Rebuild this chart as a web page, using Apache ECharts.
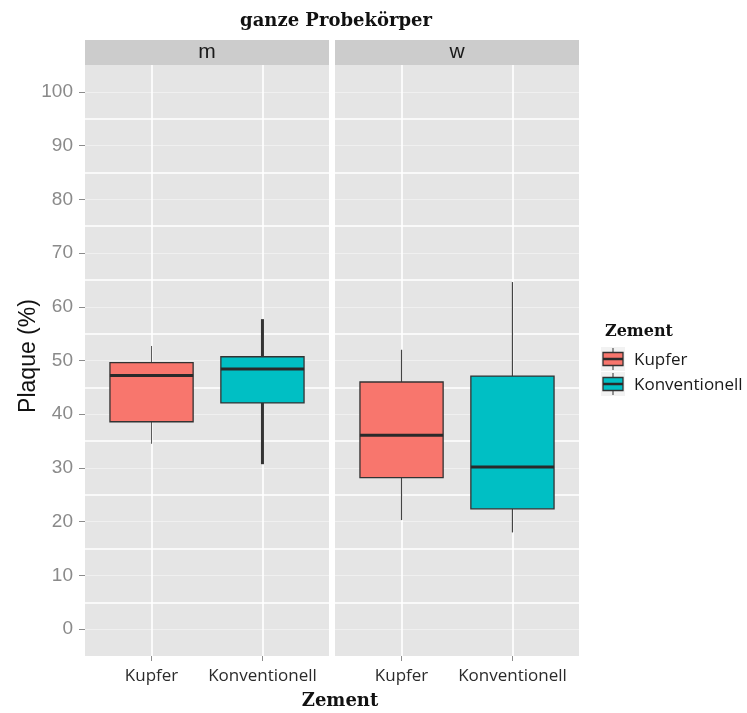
<!DOCTYPE html>
<html>
<head>
<meta charset="utf-8">
<script src="https://cdn.jsdelivr.net/npm/echarts@6/dist/echarts.min.js"></script>
<style>
  html, body { margin: 0; padding: 0; background: #ffffff; }
  #chart { width: 747px; height: 713px; }
</style>
</head>
<body>
<div id="chart"></div>
<script>
// Facets (Geschlecht) and cement groups
const panels = ['m', 'w'];
const categories = ['Kupfer', 'Konventionell'];

// Box statistics per facet: [lower whisker, Q1, median, Q3, upper whisker]
const mKupfer = [34.5, 38.6, 47.2, 49.6, 52.7];
const mKonventionell = [30.7, 42.1, 48.4, 50.7, 57.7];
const wKupfer = [20.3, 28.2, 36.1, 46.0, 52.0];
const wKonventionell = [18.0, 22.4, 30.2, 47.1, 64.6];

// Y axis tick labels
const yTicks = [0, 10, 20, 30, 40, 50, 60, 70, 80, 90, 100];

const fills = ['#F8766D', '#00BFC4'];
const outline = '#333333';
// whisker stroke width per panel / group
const whiskerWidth = { m: [1, 3], w: [1.2, 1.2] };
const whiskerColor = { m: ['#555555', '#333333'], w: ['#444444', '#444444'] };

const Y_MIN = -5, Y_MAX = 105;
const PANEL_TOP = 65, PANEL_H = 591, PANEL_W = 244;
const panelLeft = [85, 335];
// boxes sit in a slightly narrower grid so that the category centres
// land where a 0.6-unit discrete expansion would put them
const bandW = PANEL_W / 2.2;
const boxLeft = panelLeft.map(l => l + 0.6 * bandW - bandW / 2);

const chart = echarts.init(document.getElementById('chart'), null, { renderer: 'canvas' });

const grids = [];
const xAxes = [];
const yAxes = [];
const series = [];

panels.forEach((p, i) => {
  grids.push({
    left: panelLeft[i], top: PANEL_TOP, width: PANEL_W, height: PANEL_H,
    show: true, backgroundColor: '#E5E5E5', borderWidth: 0
  });
});
panels.forEach((p, i) => {
  grids.push({ left: boxLeft[i], top: PANEL_TOP, width: bandW * 2, height: PANEL_H });
});

// background grids: hidden x axes, y axes for labels, minor and major lines
panels.forEach((p, i) => {
  xAxes.push({ gridIndex: i, type: 'value', min: 0, max: 1, show: false });
  yAxes.push({
    gridIndex: i, type: 'value', min: Y_MIN, max: Y_MAX, position: 'left',
    axisLine: { show: false },
    axisTick: { show: i === 0, length: 6, customValues: yTicks, lineStyle: { color: '#8C8C8C', width: 1 } },
    axisLabel: {
      show: i === 0, customValues: yTicks, margin: 12,
      color: '#8A8A8A', fontSize: 19, fontFamily: 'Liberation Sans, Arial, sans-serif'
    },
    splitLine: { show: false }
  });
  yAxes.push({
    gridIndex: i, type: 'value', min: Y_MIN, max: Y_MAX, interval: 5, position: 'right',
    axisLine: { show: false }, axisTick: { show: false }, axisLabel: { show: false },
    splitLine: { show: true, showMinLine: false, showMaxLine: false,
      lineStyle: { color: ['#F0F0F0', 'rgba(0,0,0,0)'], width: 1 } }
  });
  yAxes.push({
    gridIndex: i, type: 'value', min: Y_MIN, max: Y_MAX, interval: 5, position: 'right',
    axisLine: { show: false }, axisTick: { show: false }, axisLabel: { show: false },
    splitLine: { show: true, showMinLine: false, showMaxLine: false,
      lineStyle: { color: ['rgba(0,0,0,0)', '#FFFFFF'], width: 1.6 } }
  });
});

// box grids: category x axes and hidden y axes
panels.forEach((p, i) => {
  xAxes.push({
    gridIndex: 2 + i, type: 'category', data: categories, position: 'bottom',
    axisLine: { show: false, onZero: false },
    axisTick: { show: true, alignWithLabel: true, length: 5, lineStyle: { color: '#8C8C8C' } },
    axisLabel: { interval: 0, margin: 12, color: '#2B2B2B', fontSize: 17, fontFamily: 'Open Sans, sans-serif' },
    splitLine: { show: true, alignWithLabel: true, lineStyle: { color: '#FFFFFF', width: 1.6 } }
  });
  yAxes.push({ gridIndex: 2 + i, type: 'value', min: Y_MIN, max: Y_MAX, show: false });
});

const panelData = {
  m: [mKupfer, mKonventionell],
  w: [wKupfer, wKonventionell]
};

panels.forEach((p, i) => {
  const data = panelData[p].map((s, ci) => [ci].concat(s));
  series.push({
    type: 'custom',
    name: p,
    xAxisIndex: 2 + i,
    yAxisIndex: 6 + i,
    data: data,
    encode: { x: 0, y: [1, 2, 3, 4, 5] },
    renderItem: function (params, api) {
      const ci = api.value(0);
      const lo = api.value(1), q1 = api.value(2), med = api.value(3), q3 = api.value(4), hi = api.value(5);
      const cx = api.coord([ci, med])[0];
      const bw = api.size([1, 0])[0] * 0.75;
      const y = v => api.coord([ci, v])[1];
      const wStyle = { stroke: whiskerColor[p][ci], lineWidth: whiskerWidth[p][ci] };
      return {
        type: 'group',
        children: [
          { type: 'line', shape: { x1: cx, y1: y(hi), x2: cx, y2: y(q3) }, style: wStyle },
          { type: 'line', shape: { x1: cx, y1: y(q1), x2: cx, y2: y(lo) }, style: wStyle },
          { type: 'rect', shape: { x: cx - bw / 2, y: y(q3), width: bw, height: y(q1) - y(q3) },
            style: { fill: fills[ci], stroke: outline, lineWidth: 1.3 } },
          { type: 'line', shape: { x1: cx - bw / 2, y1: y(med), x2: cx + bw / 2, y2: y(med) },
            style: { stroke: '#2A2A2A', lineWidth: 3 } }
        ]
      };
    }
  });
});

// legend keys (boxplot glyphs)
const legendItems = [];
const legendTop = [359, 384];
categories.forEach((c, ci) => {
  const cy = legendTop[ci];
  legendItems.push(
    { type: 'rect', shape: { x: 601, y: cy - 12, width: 24, height: 24 }, style: { fill: '#F2F2F2' }, z: 10 },
    { type: 'line', shape: { x1: 613, y1: cy - 11, x2: 613, y2: cy + 11 }, style: { stroke: '#333', lineWidth: 1 }, z: 11 },
    { type: 'rect', shape: { x: 603, y: cy - 6.5, width: 20, height: 13 },
      style: { fill: fills[ci], stroke: outline, lineWidth: 1.3 }, z: 12 },
    { type: 'line', shape: { x1: 603, y1: cy, x2: 623, y2: cy }, style: { stroke: '#2A2A2A', lineWidth: 2.5 }, z: 13 },
    { type: 'text', x: 634, y: cy + 1, style: { text: c, fill: '#1A1A1A', font: '17px "Open Sans", sans-serif',
      textAlign: 'left', textVerticalAlign: 'middle' }, z: 13 }
  );
});

const option = {
  backgroundColor: '#FFFFFF',
  animation: false,
  grid: grids,
  xAxis: xAxes,
  yAxis: yAxes,
  series: series,
  graphic: [
    // facet strips
    { type: 'rect', shape: { x: panelLeft[0], y: 40, width: PANEL_W, height: 25 }, style: { fill: '#CCCCCC' } },
    { type: 'rect', shape: { x: panelLeft[1], y: 40, width: PANEL_W, height: 25 }, style: { fill: '#CCCCCC' } },
    { type: 'text', x: panelLeft[0] + PANEL_W / 2, y: 52, style: { text: panels[0], fill: '#1A1A1A',
      font: '21px "Liberation Sans", Arial, sans-serif', textAlign: 'center', textVerticalAlign: 'middle' } },
    { type: 'text', x: panelLeft[1] + PANEL_W / 2, y: 52, style: { text: panels[1], fill: '#1A1A1A',
      font: '21px "Liberation Sans", Arial, sans-serif', textAlign: 'center', textVerticalAlign: 'middle' } },
    // title
    { type: 'text', x: 336, y: 21, style: { text: 'ganze Probekörper', fill: '#111',
      font: 'bold 18px "DejaVu Serif", serif', textAlign: 'center', textVerticalAlign: 'middle' } },
    // axis titles
    { type: 'text', x: 340, y: 701, style: { text: 'Zement', fill: '#111',
      font: 'bold 18px "DejaVu Serif", serif', textAlign: 'center', textVerticalAlign: 'middle' } },
    { type: 'text', x: 29, y: 356, rotation: Math.PI / 2, style: { text: 'Plaque (%)', fill: '#111',
      font: '23px "Liberation Sans", Arial, sans-serif', textAlign: 'center', textVerticalAlign: 'middle' } },
    // legend title
    { type: 'text', x: 605, y: 332, style: { text: 'Zement', fill: '#111',
      font: 'bold 16px "DejaVu Serif", serif', textAlign: 'left', textVerticalAlign: 'middle' } }
  ].concat(legendItems)
};

chart.setOption(option);
</script>
</body>
</html>
